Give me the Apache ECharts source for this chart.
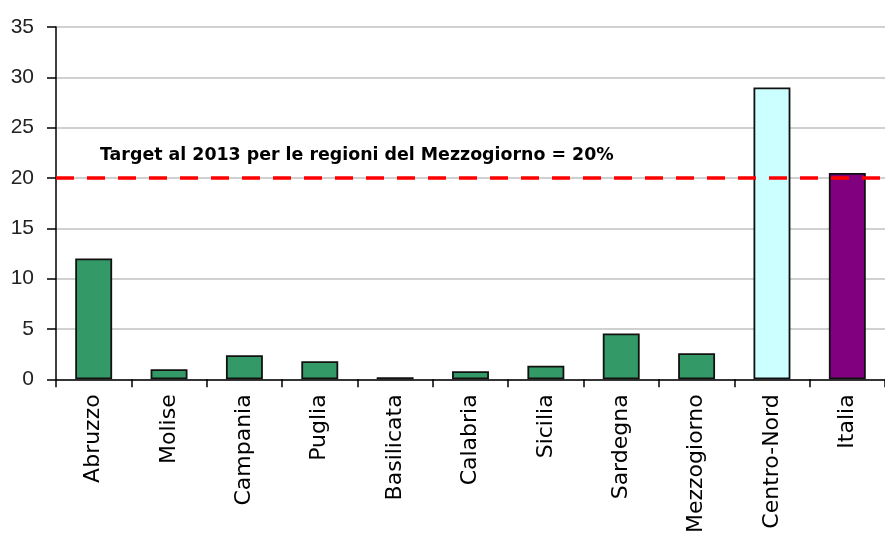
<!DOCTYPE html>
<html>
<head>
<meta charset="utf-8">
<script src="https://cdn.jsdelivr.net/npm/echarts@6/dist/echarts.min.js"></script>
<style>
  html, body { margin: 0; padding: 0; background: #fff; }
  #chart { width: 885px; height: 536px; }
</style>
</head>
<body>
<div id="chart"></div>
<script>
const regions = ['Abruzzo', 'Molise', 'Campania', 'Puglia', 'Basilicata', 'Calabria',
  'Sicilia', 'Sardegna', 'Mezzogiorno', 'Centro-Nord', 'Italia'];
const values = [12.0, 1.0, 2.4, 1.8, 0.2, 0.8, 1.35, 4.55, 2.6, 29.0, 20.5];
const barColors = ['#339966', '#339966', '#339966', '#339966', '#339966', '#339966',
  '#339966', '#339966', '#339966', '#CCFFFF', '#800080'];
const targetValue = 20;
const targetLabel = 'Target al 2013 per le regioni del Mezzogiorno = 20%';

const chart = echarts.init(document.getElementById('chart'));

const barData = values.map(function (v, i) {
  return { value: v, itemStyle: { color: barColors[i] } };
});

chart.setOption({
  animation: false,
  grid: { left: 56, right: 0, top: 27, bottom: 155 },
  xAxis: {
    type: 'category',
    data: regions,
    boundaryGap: true,
    axisLine: { lineStyle: { color: '#000', width: 1.5 } },
    axisTick: { show: true, length: 8, alignWithLabel: false, lineStyle: { color: '#000', width: 1.5 } },
    axisLabel: {
      rotate: 90,
      interval: 0,
      margin: 15,
      color: '#000',
      fontFamily: 'DejaVu Sans',
      fontSize: 22
    }
  },
  yAxis: {
    type: 'value',
    min: 0,
    max: 35,
    interval: 5,
    axisLine: { show: true, lineStyle: { color: '#000', width: 1.5 } },
    axisTick: { show: true, length: 9, lineStyle: { color: '#000', width: 1.5 } },
    axisLabel: {
      margin: 22,
      color: '#222',
      fontFamily: 'Liberation Sans',
      fontSize: 21
    },
    splitLine: { lineStyle: { color: '#c0c0c0', width: 1.5 } }
  },
  series: [
    {
      type: 'bar',
      data: barData,
      barWidth: '49%',
      itemStyle: { borderColor: '#111', borderWidth: 1.8 },
      markLine: {
        silent: true,
        symbol: 'none',
        label: { show: false },
        lineStyle: { color: '#ff0000', type: [18, 13], width: 3.5 },
        data: [{ yAxis: targetValue }],
        z: 5
      }
    }
  ],
  graphic: [
    {
      type: 'text',
      left: 100,
      top: 147,
      style: {
        text: targetLabel,
        fill: '#000',
        font: 'bold 17.4px "DejaVu Sans"'
      }
    }
  ]
});
</script>
</body>
</html>
